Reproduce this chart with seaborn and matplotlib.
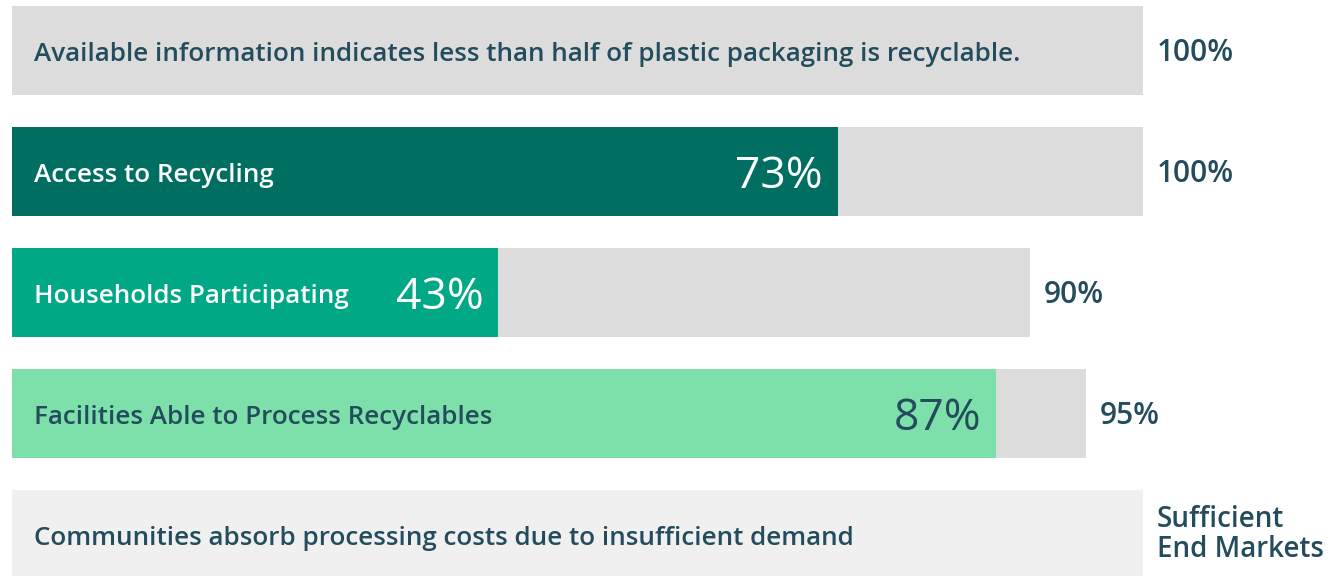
import seaborn as sns
import matplotlib.pyplot as plt
import pandas as pd
import numpy as np

# ── data ─────────────────────────────────────────────
categories = ['info', 'access', 'households', 'facilities', 'markets']
bar_labels = [
    'Available information indicates less than half of plastic packaging is recyclable.',
    'Access to Recycling',
    'Households Participating',
    'Facilities Able to Process Recyclables',
    'Communities absorb processing costs due to insufficient demand',
]
totals = [100, 100, 90, 95, 100]
shares = [np.nan, 73, 43, 87, np.nan]
total_labels = ['100%', '100%', '90%', '95%', 'Sufficient\nEnd Markets']

df = pd.DataFrame({'cat': categories, 'label': bar_labels, 'total': totals,
                   'share': shares, 'total_label': total_labels})

# ── colours ──────────────────────────────────────────
DARK = '#234c5c'
bg_colors = {'info': '#dcdcdc', 'access': '#dcdcdc', 'households': '#dcdcdc',
             'facilities': '#dcdcdc', 'markets': '#f0f0f0'}
fg_colors = {'info': '#006f62', 'access': '#006f62', 'households': '#00a886',
             'facilities': '#7ddfaa', 'markets': '#7ddfaa'}
label_colors = {'info': DARK, 'access': 'white', 'households': 'white',
                'facilities': DARK, 'markets': DARK}
pct_colors = {'access': 'white', 'households': 'white', 'facilities': DARK}

sns.set_theme(style='white')
plt.rcParams['font.family'] = ['Open Sans', 'DejaVu Sans']

fig = plt.figure(figsize=(13.44, 5.76), dpi=100)
ax = fig.add_axes([0, 0, 1, 1])

bw = 89 / 121
sns.barplot(df, x='total', y='cat', hue='cat', palette=bg_colors, order=categories,
            orient='h', width=bw, legend=False, ax=ax, saturation=1, linewidth=0)
sns.barplot(df, x='share', y='cat', hue='cat', palette=fg_colors, order=categories,
            orient='h', width=bw, legend=False, ax=ax, saturation=1, linewidth=0)

for i, row in df.iterrows():
    ax.text(1.95, i + 0.085, row['label'], va='baseline', ha='left', fontsize=18.7,
            fontweight=600, color=label_colors[row['cat']])
    if not np.isnan(row['share']):
        ax.text(row['share'] - 1.3, i + 0.135, f"{row['share']:.0f}%", va='baseline',
                ha='right', fontsize=32, fontweight=500, color=pct_colors[row['cat']])
    if row['cat'] == 'markets':
        ax.text(row['total'] + 1.2, i, row['total_label'], va='center', ha='left',
                fontsize=20, fontweight=600, color=DARK, linespacing=1.05)
    else:
        ax.text(row['total'] + 1.2, i + 0.09, row['total_label'], va='baseline',
                ha='left', fontsize=21.5, fontweight=600, color=DARK)

ax.set_xlim(-12 / 11.31, 1332 / 11.31)
ax.set_ylim((576 - 50.5) / 121, -50.5 / 121)
ax.axis('off')

plt.savefig('out.png', dpi=100)
plt.close()
